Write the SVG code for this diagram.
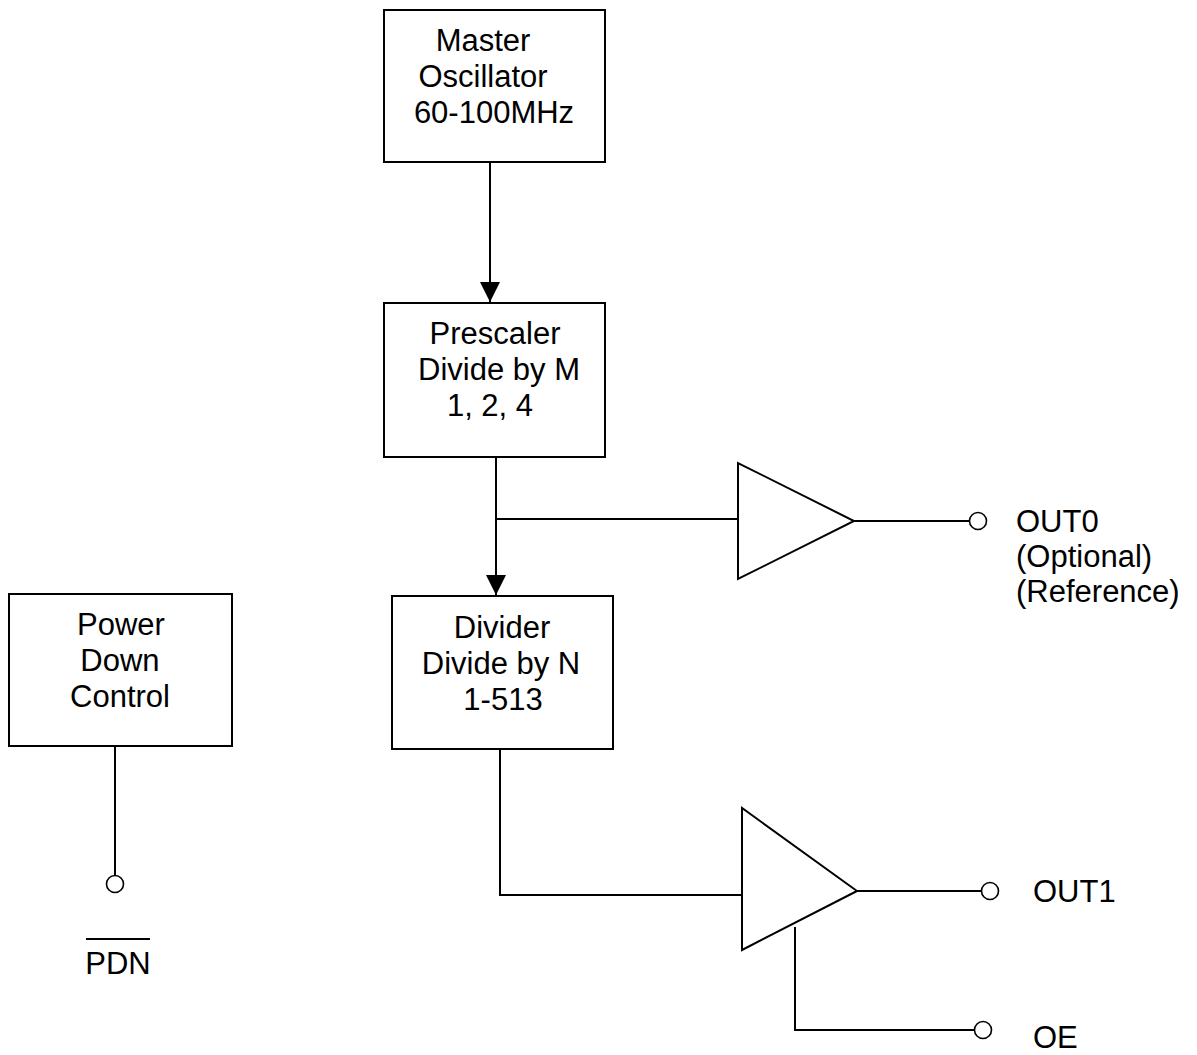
<svg xmlns="http://www.w3.org/2000/svg" width="1197" height="1055" viewBox="0 0 1197 1055">
<style>
.box{fill:#fff;stroke:#000;stroke-width:2}
.ln{fill:none;stroke:#000;stroke-width:2}
.pin{fill:#fff;stroke:#000;stroke-width:1.6}
text{font-family:"Liberation Sans",Arial,sans-serif;font-size:31px;fill:#000}
.c{text-anchor:middle}
</style>
<defs>
<marker id="arr" viewBox="0 0 20 20" refX="20" refY="10" markerWidth="20" markerHeight="20" markerUnits="userSpaceOnUse" orient="auto">
<path d="M0,0 L20,10 L0,20 Z" fill="#000"/>
</marker>
</defs>
<rect width="1197" height="1055" fill="#fff"/>
<g id="connectors">
<line class="ln" x1="490" y1="162" x2="490" y2="302" marker-end="url(#arr)"/>
<line class="ln" x1="496" y1="457" x2="496" y2="595" marker-end="url(#arr)"/>
<line class="ln" x1="496" y1="519" x2="738" y2="519"/>
<line class="ln" x1="854" y1="521" x2="969" y2="521"/>
<polyline class="ln" points="500,749 500,895 742,895"/>
<line class="ln" x1="857" y1="891" x2="981" y2="891"/>
<polyline class="ln" points="795,927 795,1030 974,1030"/>
<line class="ln" x1="115" y1="746" x2="115" y2="875"/>
</g>
<g id="master-oscillator">
<rect class="box" x="384" y="10" width="221" height="152"/>
<text class="c" x="483" y="51">Master</text>
<text class="c" x="483" y="87">Oscillator</text>
<text class="c" x="494" y="123">60-100MHz</text>
</g>
<g id="prescaler">
<rect class="box" x="384" y="303" width="221" height="154"/>
<text class="c" x="495" y="344">Prescaler</text>
<text class="c" x="499" y="380">Divide by M</text>
<text class="c" x="490" y="416">1, 2, 4</text>
</g>
<g id="divider">
<rect class="box" x="392" y="596" width="221" height="153"/>
<text class="c" x="502" y="638">Divider</text>
<text class="c" x="501" y="674">Divide by N</text>
<text class="c" x="503" y="710">1-513</text>
</g>
<g id="power-down-control">
<rect class="box" x="9" y="594" width="223" height="152"/>
<text class="c" x="121" y="635">Power</text>
<text class="c" x="120" y="671">Down</text>
<text class="c" x="120" y="707">Control</text>
</g>
<g id="buffer-out0">
<polygon class="ln" points="738,463 738,579 854,521"/>
</g>
<g id="buffer-out1">
<polygon class="ln" points="742,808 742,950 857,891"/>
</g>
<g id="pin-out0">
<circle class="pin" cx="978" cy="521" r="8.5"/>
<text x="1016" y="532">OUT0</text>
<text x="1016" y="567">(Optional)</text>
<text x="1016" y="602">(Reference)</text>
</g>
<g id="pin-out1">
<circle class="pin" cx="990" cy="891" r="8.5"/>
<text x="1033" y="902">OUT1</text>
</g>
<g id="pin-oe">
<circle class="pin" cx="983" cy="1030" r="8.5"/>
<text x="1033" y="1048">OE</text>
</g>
<g id="pin-pdn">
<circle class="pin" cx="115" cy="884" r="8.5"/>
<text class="c" x="118" y="974">PDN</text>
<line class="ln" x1="86" y1="939" x2="150" y2="939"/>
</g>
</svg>
